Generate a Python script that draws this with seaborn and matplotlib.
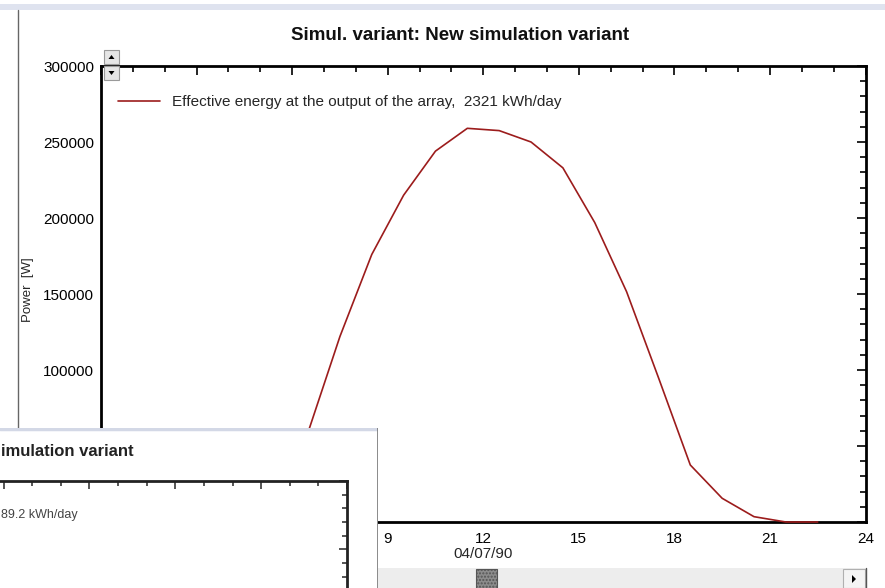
import matplotlib
matplotlib.use("Agg")
import matplotlib.pyplot as plt
import seaborn as sns
import pandas as pd
from matplotlib.patches import Rectangle, Polygon
from matplotlib.ticker import MultipleLocator

# hourly values (mid-hour), power in W
hours = [4.5, 5.5, 6.5, 7.5, 8.5, 9.5, 10.5, 11.5, 12.5, 13.5, 14.5,
         15.5, 16.5, 17.5, 18.5, 19.5, 20.5, 21.5, 22.5]
power = [0, 6000, 59000, 122000, 176000, 215000, 244000, 259000, 257500, 250000, 233000,
         197000, 151500, 95000, 37500, 15600, 3500, 0, 0]
series_label = "Effective energy at the output of the array,  2321 kWh/day"
title = "Simul. variant: New simulation variant"
date_label = "04/07/90"
y_label = "Power  [W]"
x_ticks = [0, 3, 6, 9, 12, 15, 18, 21, 24]
y_ticks = [0, 50000, 100000, 150000, 200000, 250000, 300000]
# labels covered by the other window are left blank
x_ticklabels = ["", "", "", "9", "12", "15", "18", "21", "24"]
y_ticklabels = ["", "", "100000", "150000", "200000", "250000", "300000"]
# visible parts of the window in front
back_title = "imulation variant"
back_energy = "89.2 kWh/day"

df = pd.DataFrame({"hour": hours, "power": power})

sns.set_style("white")
plt.rcParams["font.family"] = ["Liberation Sans", "DejaVu Sans"]

W, H = 885, 588
fig = plt.figure(figsize=(W / 100, H / 100), dpi=100)


def fx(px):
    return px / W


def fy(py):
    return 1 - py / H


line_color = "#9c1c1c"

# main chart
ax = fig.add_axes([fx(101), fy(522), fx(865.5 - 101), (522 - 66) / H])
sns.lineplot(data=df, x="hour", y="power", ax=ax, color=line_color, lw=1.2, label=series_label)
ax.lines[0].set_zorder(3)
ax.lines[0].set_clip_on(False)
ax.set_xlim(0, 24)
ax.set_ylim(0, 300000)
ax.set_xticks(x_ticks)
ax.set_xticklabels(x_ticklabels)
ax.set_yticks(y_ticks)
ax.set_yticklabels(y_ticklabels)
ax.xaxis.set_minor_locator(MultipleLocator(1))
ax.yaxis.set_minor_locator(MultipleLocator(10000))
ax.tick_params(which="both", direction="in", top=True, right=True, labelsize=11,
               colors="black", width=1.2)
ax.tick_params(which="major", length=6.5)
ax.tick_params(which="minor", length=4)
ax.tick_params(axis="y", pad=5)
ax.tick_params(axis="x", pad=7)
for s in ax.spines.values():
    s.set_linewidth(2)
    s.set_color("black")
ax.set_xlabel("")
ax.set_ylabel("")
ax.text(12, -0.07, date_label, transform=ax.get_xaxis_transform(), ha="center", va="center",
        fontsize=11)
leg = ax.legend(loc="center left", frameon=False, handlelength=2.75, handletextpad=0.8,
                fontsize=11, bbox_to_anchor=(0.022, 0.921), borderpad=0, borderaxespad=0)
fig.text(fx(460), fy(35), title, ha="center", va="center", fontsize=13.5, fontweight="bold",
         color="#111111")
fig.text(fx(28), fy(290), y_label, ha="center", va="center", rotation=90, fontsize=9.5)

# window chrome on top
top = fig.add_axes([0, 0, 1, 1], zorder=4)
top.set_xlim(0, W)
top.set_ylim(H, 0)
top.axis("off")
top.patch.set_alpha(0)
top.add_patch(Rectangle((0, 4), W, 6, color="#dfe3ef", lw=0))
top.plot([18, 18], [10, H], color="#666666", lw=1)
# up/down buttons
for y0, up in [(50, True), (66, False)]:
    top.add_patch(Rectangle((104, y0), 15, 14, facecolor="#e6e6e6", edgecolor="#9a9a9a", lw=0.8))
    cx, cy = 111.5, y0 + 7
    if up:
        tri = [(cx - 3, cy + 2), (cx + 3, cy + 2), (cx, cy - 2)]
    else:
        tri = [(cx - 3, cy - 2), (cx + 3, cy - 2), (cx, cy + 2)]
    top.add_patch(Polygon(tri, color="black", lw=0))
# scrollbar
top.add_patch(Rectangle((378, 568), 488, 20, facecolor="#ededed", edgecolor="none"))
top.add_patch(Rectangle((476, 569), 21, 19, facecolor="#8c8c8c", edgecolor="#555555", lw=0.8,
                        hatch="....."))
top.add_patch(Rectangle((843, 569), 22, 19, facecolor="#f4f4f4", edgecolor="#b0b0b0", lw=0.8))
top.add_patch(Polygon([(852, 575), (852, 583), (856, 579)], color="black", lw=0))
top.plot([866, 866], [568, H], color="#555555", lw=1)

# overlapping window, bottom left
win = fig.add_axes([0, 0, fx(378), (H - 428) / H], zorder=5)
win.set_xlim(0, 378)
win.set_ylim(H, 428)
win.set_xticks([])
win.set_yticks([])
win.set_facecolor("white")
for s in win.spines.values():
    s.set_visible(False)
win.plot([0, 378], [428.5, 428.5], color="#d3d8e6", lw=2.5)
win.plot([377.5, 377.5], [428, H], color="#777777", lw=1.2)
win.text(1, 452, back_title, ha="left", va="center", fontsize=12, fontweight="bold",
         color="#222222")
win.text(1, 515, back_energy, ha="left", va="center", fontsize=9, color="#444444")

scale = 0.9
ins_w = 24 * 31.8 * scale
ins_h = 456 * scale
ins = fig.add_axes([fx(347 - ins_w), fy(481 + ins_h), fx(ins_w), ins_h / H], zorder=6)
ins.set_facecolor("none")
ins.set_xlim(0, 24)
ins.set_ylim(0, 300000)
ins.set_xticks(x_ticks)
ins.set_yticks(y_ticks)
ins.xaxis.set_minor_locator(MultipleLocator(1))
ins.yaxis.set_minor_locator(MultipleLocator(10000))
ins.tick_params(which="both", direction="in", top=True, right=True, labelleft=False,
                labelbottom=False, width=1.1)
ins.tick_params(which="major", length=6)
ins.tick_params(which="minor", length=3.5)
for s in ins.spines.values():
    s.set_linewidth(2)
    s.set_color("#222222")

fig.savefig("out.png", dpi=100)
